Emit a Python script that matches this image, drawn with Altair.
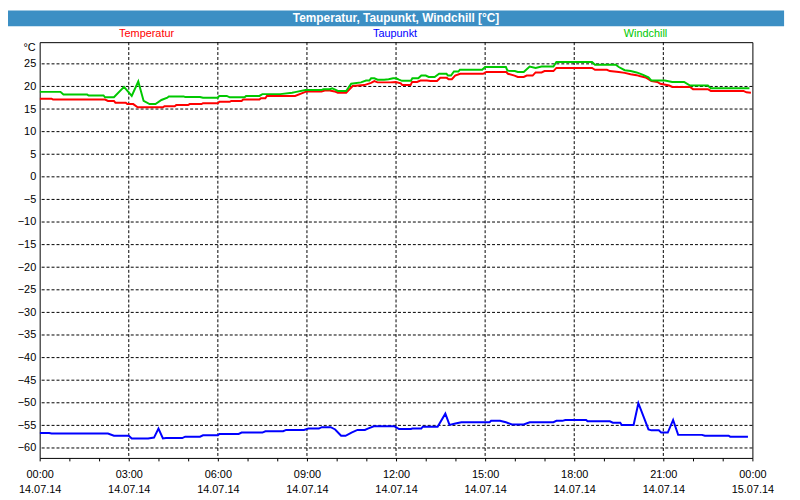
import altair as alt
import pandas as pd

# ---------------- data (hours since 14.07.14 00:00, °C) ----------------
temp_h = [0, 0.4, 0.45, 2.2, 2.3, 2.5, 2.55, 2.9, 2.95, 3.15, 3.3, 4.15, 4.2, 4.55, 4.6, 5.0,
          5.05, 5.45, 5.5, 6.0, 6.05, 6.4, 6.45, 6.8, 6.85, 7.4, 7.45, 7.6, 7.65, 8.6,
          8.99, 9.49, 9.6, 9.77, 9.93, 10.04, 10.32, 10.54, 10.93, 11.16, 11.27, 11.38, 11.82,
          11.99, 12.16, 12.21, 12.49, 12.54, 12.71, 12.82, 13.04, 13.16, 13.38, 13.49, 13.71,
          13.77, 13.88, 13.99, 14.16, 14.93, 15.04, 15.71, 15.77, 15.99, 16.1, 16.3, 16.4,
          16.6, 16.7, 16.9, 17.0, 17.3, 17.4, 18.6, 18.7, 19.1, 19.2, 19.5, 19.7, 19.9, 20.1,
          20.2, 20.4, 20.5, 20.6, 20.8, 20.9, 21.2, 21.3, 21.9, 22.0, 22.5, 22.6, 23.7, 23.8, 23.95]
temp_v = [17.3, 17.3, 17.1, 17.1, 16.8, 16.8, 16.4, 16.4, 16.1, 16.1, 15.4, 15.4, 15.6, 15.6, 15.9, 15.9,
          16.1, 16.1, 16.3, 16.3, 16.6, 16.6, 16.8, 16.8, 17.1, 17.1, 17.4, 17.4, 17.9, 17.9,
          18.9, 18.9, 19.1, 19.1, 18.9, 18.6, 18.6, 20.1, 20.3, 20.8, 21.2, 20.9, 20.9,
          21.0, 20.7, 20.3, 20.3, 21.0, 21.0, 21.3, 21.3, 21.2, 21.2, 21.9, 21.9,
          21.6, 21.6, 22.4, 22.8, 22.8, 23.2, 23.2, 22.8, 22.4, 22.1, 22.1, 22.4,
          22.4, 23.1, 23.1, 23.4, 23.4, 24.1, 24.1, 23.7, 23.7, 23.4, 23.2, 23.0, 22.7, 22.5,
          22.3, 22.0, 21.6, 21.2, 21.0, 20.6, 20.2, 19.9, 19.9, 19.4, 19.4, 19.0, 19.0, 18.7, 18.6]

dew_h = [0, 0.32, 0.4, 2.3, 2.5, 3.0, 3.1, 3.65, 3.85, 4.0, 4.15, 4.25, 4.8, 4.9, 5.4, 5.5, 6.0,
         6.05, 6.7, 6.8, 7.5, 7.6, 8.2, 8.3, 8.9, 9.05, 9.4, 9.5, 9.8, 9.95, 10.15, 10.3, 10.5,
         10.7, 10.95, 11.05, 11.25, 11.95, 12.1, 12.5, 12.55, 12.85, 12.9, 13.4, 13.66, 13.8,
         14.0, 14.2, 15.15, 15.2, 15.5, 15.7, 15.9, 16.3, 16.5, 17.3, 17.4, 17.6, 17.7, 18.4,
         18.45, 19.2, 19.3, 19.55, 19.6, 20.0, 20.16, 20.5, 20.6, 20.85, 20.93, 21.15, 21.33,
         21.5, 22.3, 22.4, 23.2, 23.25, 23.85]
dew_v = [-56.7, -56.7, -56.8, -56.8, -57.3, -57.3, -57.9, -57.9, -57.7, -55.7, -57.9, -57.8, -57.8, -57.5, -57.5, -57.2, -57.2,
         -56.9, -56.9, -56.6, -56.6, -56.3, -56.3, -56.0, -56.0, -55.7, -55.7, -55.4, -55.4, -55.9, -57.3, -57.3, -56.6,
         -56.0, -56.0, -55.7, -55.2, -55.2, -55.8, -55.8, -55.7, -55.7, -55.3, -55.3, -52.4, -54.9,
         -54.6, -54.3, -54.3, -54.0, -54.0, -54.3, -54.8, -54.8, -54.3, -54.3, -54.0, -54.0, -53.8, -53.8,
         -54.1, -54.1, -54.4, -54.4, -54.9, -54.9, -50.1, -55.9, -56.1, -56.1, -56.6, -56.6, -53.8,
         -57.1, -57.1, -57.3, -57.3, -57.5, -57.5]

wind_h = [0, 0.7, 0.8, 1.6, 1.65, 2.15, 2.2, 2.5, 2.84, 3.1, 3.32, 3.5, 3.7, 3.9, 4.1, 4.3, 4.35,
          4.85, 4.9, 5.4, 5.5, 6.0, 6.05, 6.3, 6.4, 6.9, 6.95, 7.4, 7.5, 8.1, 8.5, 8.6, 8.95, 9.49,
          9.55, 9.77, 9.85, 9.95, 10.04, 10.32, 10.49, 10.82, 10.99, 11.1, 11.16, 11.27, 11.38,
          11.6, 11.75, 11.9, 12.0, 12.1, 12.2, 12.5, 12.55, 12.75, 12.85, 13.0, 13.1, 13.3, 13.45,
          13.7, 13.75, 13.85, 13.95, 14.1, 14.15, 14.9, 15.0, 15.7, 15.75, 16.0, 16.1, 16.3, 16.5,
          16.7, 16.9, 17.0, 17.3, 17.4, 18.6, 18.7, 19.4, 19.5, 19.7, 19.9, 20.1, 20.3, 20.5, 20.6,
          21.05, 21.3, 21.7, 21.9, 22.5, 22.6, 23.9]
wind_v = [18.8, 18.8, 18.2, 18.2, 18.0, 18.0, 17.6, 17.6, 19.9, 17.9, 21.1, 16.8, 16.1, 16.1, 17.0, 17.5, 17.8,
          17.8, 17.65, 17.65, 17.5, 17.5, 17.9, 17.9, 17.6, 17.6, 17.9, 17.9, 18.3, 18.3, 18.6, 18.75, 19.2, 19.2,
          19.4, 19.4, 19.6, 19.3, 19.0, 19.0, 20.6, 20.9, 21.3, 21.3, 21.8, 21.8, 21.5,
          21.5, 21.6, 21.8, 21.8, 21.5, 21.25, 21.25, 21.8, 21.8, 22.4, 22.4, 22.1, 22.1, 22.8,
          22.8, 22.4, 22.4, 23.3, 23.3, 23.7, 23.7, 24.3, 24.3, 23.5, 23.4, 23.2, 23.2, 24.4,
          24.1, 24.4, 24.4, 24.4, 25.4, 25.4, 24.8, 24.8, 24.3, 23.6, 23.4, 23.1, 22.6, 22.0, 21.3,
          21.3, 21.0, 21.0, 20.2, 20.2, 19.6, 19.6]

series_names = ["Temperatur", "Taupunkt", "Windchill"]
series_colors = ["#ff0000", "#0000ff", "#00c800"]

y_ticks = list(range(-60, 30, 5))
x_ticks = list(range(0, 25))
x_grid = list(range(3, 24, 3))
date_first = "14.07.14"
date_next = "15.07.14"
title_text = "Temperatur, Taupunkt, Windchill [°C]"
unit_text = "°C"

# ---------------- build table ----------------
rows = []
for name, hs, vs in [("Temperatur", temp_h, temp_v), ("Taupunkt", dew_h, dew_v), ("Windchill", wind_h, wind_v)]:
    for i, (h, v) in enumerate(zip(hs, vs)):
        rows.append({"h": h, "v": v, "s": name, "o": i})
df = pd.DataFrame(rows)

FONT = "Liberation Sans"
xscale = alt.Scale(domain=[0, 24], nice=False, zero=False)
yscale = alt.Scale(domain=[-62.2, 29.8], nice=False, zero=False)

label_expr = (
    "datum.value % 3 == 0 ? [(datum.value % 24 < 10 ? '0' : '') + (datum.value % 24) + ':00', "
    f"datum.value == 24 ? '{date_next}' : '{date_first}'] : ''"
)

xaxis = alt.Axis(values=x_ticks, labelExpr=label_expr, grid=False, domain=False,
                 tickSize=3, tickColor="black", labelColor="black", labelFont=FONT,
                 labelFontSize=11, labelPadding=8, labelBaseline="top", labelLineHeight=15,
                 labelFlush=False, labelOverlap=False, labelBound=False, title=None)
yaxis = alt.Axis(values=y_ticks, grid=False, domain=False, ticks=False, labelPadding=4,
                 labelColor="black", labelFont=FONT, labelFontSize=11, labelOverlap=False,
                 labelBound=False, labelFlush=False, title=None)

lines = alt.Chart(df).mark_line(strokeWidth=2, clip=True).encode(
    x=alt.X("h:Q", scale=xscale, title=None, axis=xaxis),
    y=alt.Y("v:Q", scale=yscale, title=None, axis=yaxis),
    color=alt.Color("s:N", scale=alt.Scale(domain=series_names, range=series_colors), legend=None),
    order="o:Q",
)

ygrid = alt.Chart(pd.DataFrame({"v": y_ticks})).mark_rule(
    color="black", strokeDash=[3, 2], strokeWidth=1).encode(
    y=alt.Y("v:Q", scale=yscale, title=None, axis=yaxis))
xgrid = alt.Chart(pd.DataFrame({"h": x_grid})).mark_rule(
    color="black", strokeDash=[3, 2], strokeWidth=1).encode(
    x=alt.X("h:Q", scale=xscale, title=None, axis=xaxis))

one = pd.DataFrame({"a": [0]})
title_bar = alt.Chart(one).mark_rect(color="#3c8fc4").encode(
    x=alt.value(-32), x2=alt.value(752), y=alt.value(-32), y2=alt.value(-16))
title = alt.Chart(one).mark_text(font=FONT, fontSize=12, fontWeight="bold", color="white",
                                 align="center", baseline="middle", text=title_text).encode(
    x=alt.value(360), y=alt.value(-24))

legend_x = [108, 359, 612]
legend_layers = []
for name, col, lx in zip(series_names, series_colors, legend_x):
    legend_layers.append(
        alt.Chart(one).mark_text(font=FONT, fontSize=11, color=col, align="center",
                                 baseline="middle", text=name).encode(x=alt.value(lx), y=alt.value(-8)))

unit = alt.Chart(one).mark_text(font=FONT, fontSize=11, color="black", align="right",
                                baseline="middle", text=unit_text).encode(x=alt.value(-4), y=alt.value(6))

chart = alt.layer(ygrid, xgrid, lines, title_bar, title, unit, *legend_layers).properties(
    width=720, height=420, autosize="none",
    padding={"left": 32, "top": 32, "right": 40, "bottom": 40},
    background="white",
).configure_view(stroke="black", strokeWidth=1).configure_axis(labelOverlap=False)

chart.save("out.html", embed_options={"renderer": "svg", "actions": False})
